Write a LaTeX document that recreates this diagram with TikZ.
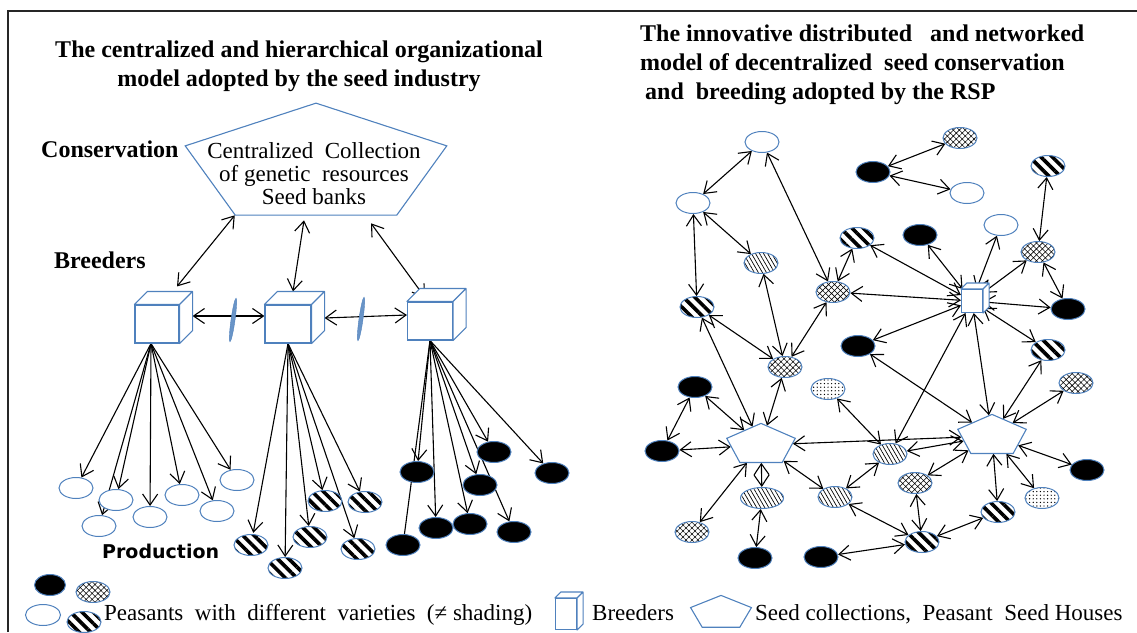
\documentclass[tikz,border=0pt]{standalone}
\usepackage{fontspec}
\setmainfont{Liberation Serif}
\newfontfamily\labelfont{DejaVu Sans}
\usetikzlibrary{shapes.geometric,arrows.meta,patterns.meta,backgrounds,calc}
\definecolor{bluep}{RGB}{79,129,189}

\tikzset{
  peasant/.style={ellipse,draw=bluep,line width=1pt,minimum width=34pt,minimum height=21pt,inner sep=0pt},
  popen/.style={peasant,fill=white},
  pblack/.style={peasant,fill=black},
  pcross/.style={peasant,preaction={fill=white},pattern={Hatch[angle=45,distance=4.2pt,line width=0.55pt]}},
  pstripe/.style={peasant,preaction={fill=white},pattern={Lines[angle=-45,distance=8pt,line width=3.6pt]}},
  phatch/.style={peasant,preaction={fill=white},pattern={Lines[angle=-60,distance=3.5pt,line width=0.7pt]}},
  pdots/.style={peasant,preaction={fill=white},pattern={Dots[distance=3.6pt,radius=0.7pt]}},
  breeder/.style={draw=bluep,line width=1.1pt,fill=white,inner sep=0pt},
  seedhouse/.style={regular polygon,regular polygon sides=5,draw=bluep,line width=1.1pt,inner sep=0pt,transform shape},
  tick/.style={ellipse,draw=bluep,fill=bluep!85,inner sep=0pt,minimum width=4pt,minimum height=44pt},
  twoway/.style={line width=1.1pt,{Straight Barb[length=11pt,width=15pt]}-{Straight Barb[length=11pt,width=15pt]}},
  oneway/.style={line width=1.1pt,-{Straight Barb[length=11pt,width=15pt]}},
  heading/.style={font=\fontsize{24}{29}\selectfont\bfseries,inner sep=0pt},
  txt/.style={font=\fontsize{23}{23}\selectfont,inner sep=0pt},
}

\begin{document}
\begin{tikzpicture}[x=1pt,y=-1pt]
\useasboundingbox (0,0) rectangle (1137,632);
\draw[line width=2pt,black!85] (8,632) -- (8,11) -- (1137,11);

% titles
\node[heading,align=center,anchor=north] (lefttitle) at (299,41) {The centralized and hierarchical organizational\\model adopted by the seed industry};
\node[heading,align=left,anchor=north west] (righttitle) at (640,25) {The innovative distributed\ \ \ and networked\\model of decentralized\ \ seed conservation\\\hspace*{5pt}and\ \ breeding adopted by the RSP};

% left: hierarchical model
\node[heading,anchor=base west] (conslabel) at (41,157) {Conservation};
\node[heading,anchor=base west] (brlabel) at (54,268) {Breeders};
\node[font=\fontsize{19}{19}\selectfont\labelfont\bfseries,inner sep=0pt,anchor=base west] (prodlabel) at (102,558) {Production};

\begin{scope}[shift={(316,165)}]
  \node[seedhouse,minimum size=275pt,yscale=0.45] (bank) at (0,0) {};
\end{scope}
\node[txt,align=center,anchor=north] (banktext) at (314,142) {Centralized\ \ Collection\\of genetic\ \ resources\\Seed banks};

\node[breeder,minimum width=44pt,minimum height=38pt] (br1) at (157,324) {};
\node[breeder,minimum width=46pt,minimum height=38pt] (br2) at (288,324) {};
\node[breeder,minimum width=45pt,minimum height=38pt] (br3) at (430,321) {};

\node[popen] (o1) at (76,488) {};
\node[popen] (o2) at (116,500) {};
\node[popen] (o3) at (99,526) {};
\node[popen] (o4) at (150,517) {};
\node[popen] (o5) at (182,495) {};
\node[popen] (o6) at (217,511) {};
\node[popen] (o7) at (237,480) {};

\node[pstripe] (s1) at (251,545) {};
\node[pstripe] (s2) at (285,568) {};
\node[pstripe] (s3) at (310,537) {};
\node[pstripe] (s4) at (325,501) {};
\node[pstripe] (s5) at (358,549) {};
\node[pstripe] (s6) at (365,502) {};

\node[pblack] (k1) at (417,472) {};
\node[pblack] (k2) at (403,545) {};
\node[pblack] (k3) at (436,528) {};
\node[pblack] (k4) at (470,524) {};
\node[pblack] (k5) at (480,485) {};
\node[pblack] (k6) at (494,452) {};
\node[pblack] (k7) at (514,532) {};
\node[pblack] (k8) at (552,473) {};

% right: network model
\node[popen] (r1) at (762,142) {};
\node[pcross] (r2) at (960,138) {};
\node[pblack] (r3) at (873,172) {};
\node[popen] (r4) at (967,193) {};
\node[pstripe] (r5) at (1048,166) {};
\node[popen] (r6) at (693,203) {};
\node[pblack] (r7) at (920,235) {};
\node[popen] (r8) at (1001,225) {};
\node[pstripe] (r9) at (857,238) {};
\node[pcross] (r10) at (1038,252) {};
\node[phatch] (r11) at (761,263) {};
\node[pstripe] (r12) at (697,307) {};
\node[pcross] (r13) at (833,292) {};
\node[breeder,minimum width=21pt,minimum height=23pt] (hub) at (972,301) {};
\node[pblack] (r15) at (1068,309) {};
\node[pblack] (r16) at (858,346) {};
\node[pstripe] (r17) at (1048,350) {};
\node[pcross] (r18) at (785,367) {};
\node[pblack] (r19) at (695,387) {};
\node[pdots] (r20) at (828,389) {};
\node[pcross] (r21) at (1076,383) {};
\begin{scope}[shift={(761,445)}]
  \node[seedhouse,minimum size=72pt,yscale=0.6] (h1) at (0,0) {};
\end{scope}
\begin{scope}[shift={(992,436)}]
  \node[seedhouse,minimum size=72pt,yscale=0.6] (h2) at (0,0) {};
\end{scope}
\node[pblack] (r22) at (662,451) {};
\node[phatch] (r23) at (890,454) {};
\node[pblack] (r24) at (1087,470) {};
\node[pcross] (r25) at (915,483) {};
\node[phatch,minimum width=43pt] (r26) at (762,498) {};
\node[phatch] (r27) at (835,497) {};
\node[pdots] (r28) at (1042,498) {};
\node[pstripe] (r29) at (998,512) {};
\node[pcross] (r30) at (692,532) {};
\node[pstripe] (r31) at (922,542) {};
\node[pblack] (r32) at (755,558) {};
\node[pblack] (r33) at (821,557) {};

% legend
\node[pblack,minimum width=31pt] (lgblack) at (50,585) {};
\node[pcross] (lgcross) at (93,592) {};
\node[popen,minimum width=35pt] (lgopen) at (43,615) {};
\node[pstripe] (lgstripe) at (84,622) {};
\node[txt,anchor=base west] (lgpeas) at (104,620) {Peasants\ \ with\ \ different\ \ varieties\ \ (≠ shading)};
\node[breeder,minimum width=21pt,minimum height=31pt] (lgbr) at (566,614) {};
\node[txt,anchor=base west] (lgbrtext) at (592,620) {Breeders};
\begin{scope}[shift={(721,613)}]
  \node[seedhouse,minimum size=64pt,yscale=0.55] (lghouse) at (0,0) {};
\end{scope}
\node[txt,anchor=base west] (lghousetext) at (755,620) {Seed collections,\ \ Peasant\ \ Seed Houses};

% cube depth
\foreach \cb/\dep in {br1/13,br2/13,br3/13,hub/6,lgbr/6}
  \draw[bluep,line width=1.1pt,fill=white,line join=round]
    (\cb.north west) -- ++(\dep,-\dep) -- ($(\cb.north east)+(\dep,-\dep)$) -- ($(\cb.south east)+(\dep,-\dep)$)
    -- (\cb.south east) -- (\cb.north east) -- cycle
    (\cb.north east) -- ++(\dep,-\dep);

\begin{scope}[on background layer]
  \draw[twoway] (bank.corner 3) -- ([xshift=20pt,yshift=18pt]br1.north);
  \draw[twoway] ([xshift=-12pt,yshift=-5pt]bank.south) -- ([xshift=5pt,yshift=13pt]br2.north);
  \draw[twoway] ([xshift=55pt,yshift=-8pt]bank.south) -- ([xshift=-5pt,yshift=4pt]br3.north);
  \draw[twoway] ([xshift=13pt,yshift=8pt]br1.east) -- ([yshift=8pt]br2.west);
  \draw[twoway] ([xshift=13pt,yshift=6pt]br2.east) -- ([yshift=6pt]br3.west);
  \foreach \i in {1,...,7}
    \draw[oneway] ([xshift=-6pt]br1.south) -- (o\i);
  \foreach \i in {1,...,6}
    \draw[oneway] (br2.south) -- (s\i);
  \foreach \i in {1,3,4,5,6,7,8}
    \draw[oneway] (br3.south) -- (k\i);
  \draw[line width=1.1pt] (br3.south) -- (k2);
  \foreach \a/\b in {r1/r6,r1/r13,r3/r2,r3/r4,r5/r10,r6/r12,r6/r11,r9/r13,r9/hub,r7/hub,r8/hub,r10/hub,r10/r15,r13/hub,hub/r15,hub/r16,hub/r17,r11/r18,r12/r18,r13/r18,r12/h1,hub/r23,hub/h2,r16/h2,r17/h2,r18/h1,r19/r22,r19/h1,r22/h1,r20/r23,h1/h2,r21/h2,h2/r24,h1/r26,h1/r27,h1/r30,r23/r27,r23/h2,r25/h2,r29/h2,r28/h2,r26/r32,r27/r31,r25/r31,r31/r29,r31/r33}
    \draw[twoway] (\a) -- (\b);
\end{scope}

\node[tick,rotate=-8] (tk1) at (233,320) {};
\node[tick,rotate=-8] (tk2) at (361,319) {};
\end{tikzpicture}
\end{document}
